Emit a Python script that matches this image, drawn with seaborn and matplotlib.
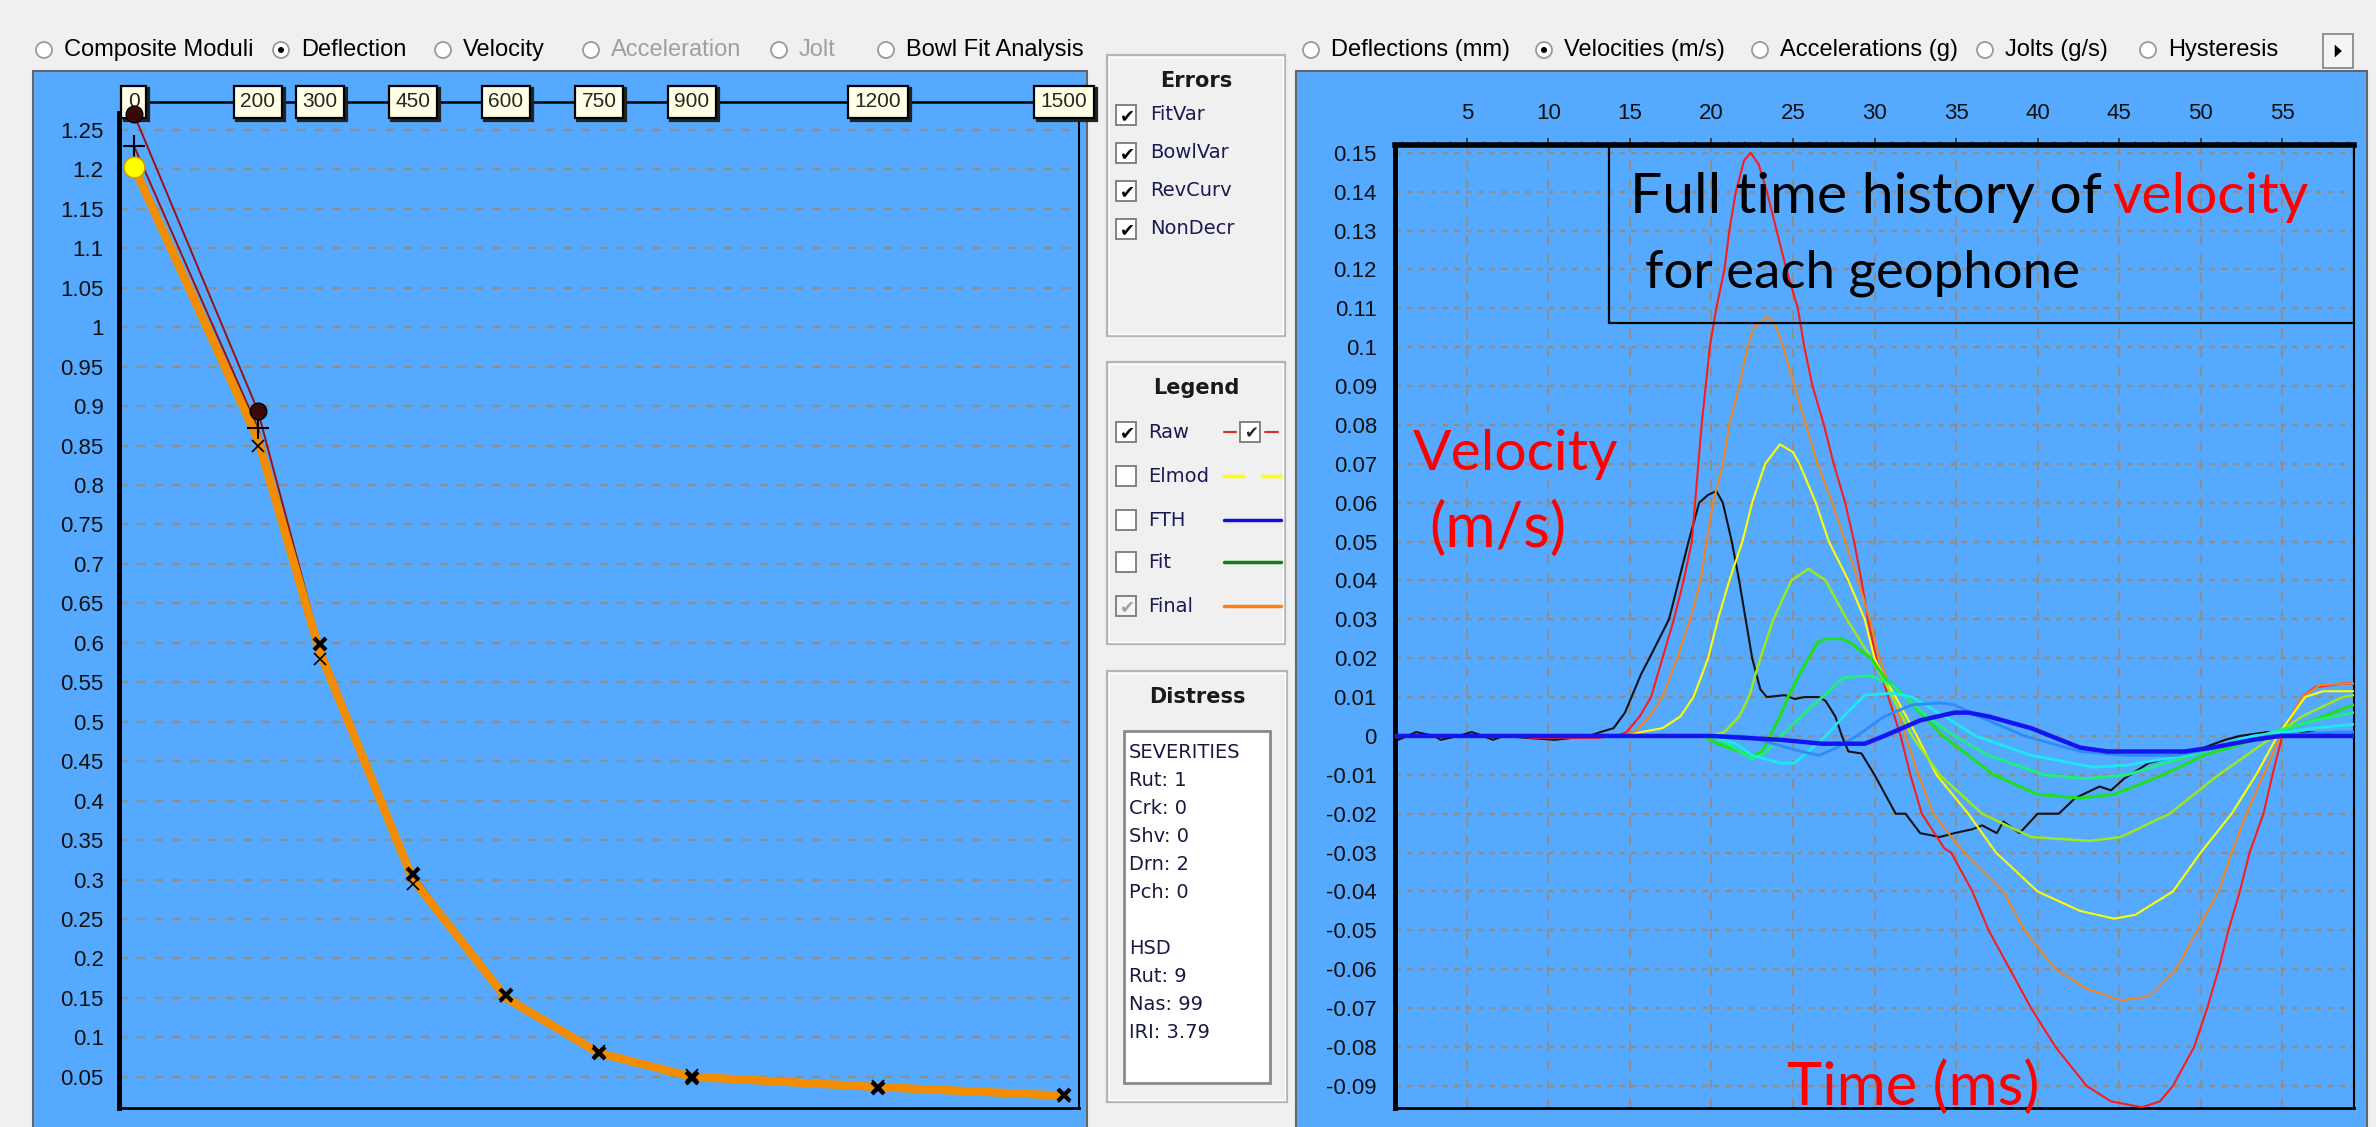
import numpy as np
import pandas as pd
import seaborn as sns
import matplotlib.pyplot as plt
import matplotlib.ticker as mtick
import matplotlib.transforms as mtrans
from matplotlib.patches import Rectangle, Circle, Polygon

# ---------------- data: deflection bowl (left chart) ----------------
offsets = [0, 200, 300, 450, 600, 750, 900, 1200, 1500]
offset_labels = ['0', '200', '300', '450', '600', '750', '900', '1200', '1500']
raw_a = [1.270, 0.894, 0.598, 0.307, 0.153, 0.080, 0.048, 0.036, 0.027]
raw_b = [1.230, 0.872, 0.590, 0.300, 0.150, 0.078, 0.050, 0.035, 0.026]
raw_x = [1.205, 0.850, 0.580, 0.294, 0.152, 0.083, 0.052, 0.038, 0.025]
final = [1.203, 0.858, 0.588, 0.300, 0.150, 0.080, 0.050, 0.037, 0.026]

# ---------------- data: velocity time histories (right chart) ----------------
black_t = [0.6, 0.8, 1.9, 3.0, 3.4, 4.5, 5.3, 6.0, 6.6, 7.3, 8.7, 10.4, 12.5, 13.2, 14.0,
           14.7, 15.1, 15.7, 16.2, 16.8, 17.4, 18.0, 18.6, 19.25, 19.8, 20.3, 20.7, 21.25,
           21.7, 22.1, 22.5, 23.0, 23.4, 24.5, 25.1, 25.7, 26.6, 27.0, 27.6, 28.0, 28.4,
           29.2, 30.0, 31.3, 31.9, 32.8, 34.0, 34.9, 36.0, 36.6, 37.5, 37.9, 38.9, 40.0,
           41.3, 42.3, 43.8, 44.5, 45.3, 46.8, 49.4, 50.2, 51.5, 52.4, 54.1, 55.3, 56.6,
           58.7, 59.4]
black_v = [0.0, -0.001, 0.001, 0.0, -0.001, 0.0, 0.001, 0.0, -0.001, 0.0, -0.0005, -0.001,
           0.0, 0.001, 0.002, 0.006, 0.010, 0.016, 0.020, 0.025, 0.030, 0.040, 0.050, 0.060,
           0.062, 0.063, 0.060, 0.050, 0.040, 0.030, 0.020, 0.012, 0.010, 0.0105, 0.0095,
           0.010, 0.010, 0.009, 0.005, 0.0, -0.004, -0.0045, -0.010, -0.020, -0.020, -0.025,
           -0.026, -0.025, -0.024, -0.023, -0.025, -0.022, -0.025, -0.020, -0.020, -0.016,
           -0.013, -0.014, -0.011, -0.007, -0.004, -0.003, -0.001, 0.0, 0.001, 0.0, 0.001,
           0.0, 0.0]

red_t = [0.6, 8.0, 9.0, 13.0, 14.2, 14.8, 15.6, 16.3, 17.0, 17.7, 18.3, 18.8, 19.0, 19.4,
         19.9, 20.3, 20.8, 21.1, 21.5, 22.0, 22.4, 22.9, 23.4, 24.0, 24.6, 25.3, 25.7, 26.2,
         26.9, 27.5, 28.2, 28.75, 29.2, 29.6, 30.1, 30.85, 31.6, 32.2, 32.9, 34.3, 34.7,
         36.0, 37.0, 38.3, 39.6, 41.1, 43.0, 44.5, 46.4, 47.5, 48.3, 49.6, 50.4, 51.1, 51.7,
         52.4, 53.0, 53.85, 54.4, 55.0, 55.55, 56.2, 57.0, 58.7, 59.4]
red_v = [0.0, 0.0, -0.0005, -0.0005, 0.0, 0.001, 0.005, 0.010, 0.020, 0.030, 0.040, 0.050,
         0.060, 0.080, 0.100, 0.110, 0.120, 0.130, 0.140, 0.148, 0.150, 0.147, 0.140, 0.130,
         0.120, 0.110, 0.100, 0.090, 0.080, 0.070, 0.060, 0.050, 0.040, 0.030, 0.020, 0.010,
         0.0, -0.010, -0.020, -0.029, -0.030, -0.040, -0.050, -0.060, -0.070, -0.080, -0.090,
         -0.094, -0.0955, -0.094, -0.090, -0.080, -0.070, -0.060, -0.050, -0.040, -0.030,
         -0.020, -0.010, 0.0, 0.005, 0.010, 0.0125, 0.0135, 0.0135]

orange_t = [0.6, 14.5, 15.3, 16.2, 17.0, 17.9, 18.7, 19.35, 19.7, 20.1, 20.7, 21.1, 21.7,
            22.2, 22.6, 23.5, 24.0, 24.4, 25.1, 25.8, 26.5, 27.4, 28.2, 29.0, 29.7, 30.3,
            31.15, 31.9, 32.7, 33.6, 34.9, 35.5, 37.9, 39.2, 41.1, 43.0, 45.1, 46.8, 48.5,
            49.8, 51.1, 51.9, 52.8, 53.85, 54.9, 55.55, 56.2, 57.3, 58.7, 59.4]
orange_v = [0.0, 0.0, 0.001, 0.005, 0.010, 0.020, 0.030, 0.040, 0.050, 0.060, 0.070, 0.080,
            0.090, 0.100, 0.105, 0.108, 0.105, 0.100, 0.090, 0.080, 0.070, 0.060, 0.050,
            0.040, 0.030, 0.020, 0.010, 0.0, -0.010, -0.020, -0.027, -0.030, -0.040, -0.050,
            -0.060, -0.065, -0.068, -0.067, -0.060, -0.050, -0.040, -0.030, -0.020, -0.010,
            0.0, 0.005, 0.010, 0.013, 0.0135, 0.0135]

yellow_t = [0.6, 14.8, 15.7, 17.0, 18.1, 18.9, 19.8, 20.4, 21.1, 21.9, 22.5, 23.3, 24.2,
            25.0, 25.4, 26.4, 27.2, 28.4, 29.4, 30.0, 30.6, 31.3, 32.6, 33.8, 35.75, 37.45,
            40.0, 42.6, 44.7, 46.0, 48.3, 50.0, 51.9, 53.4, 54.7, 55.55, 56.4, 57.5, 59.4]
yellow_v = [0.0, 0.0, 0.001, 0.002, 0.005, 0.010, 0.020, 0.030, 0.040, 0.050, 0.060, 0.070,
            0.075, 0.073, 0.070, 0.060, 0.050, 0.040, 0.030, 0.020, 0.015, 0.010, 0.0, -0.010,
            -0.020, -0.030, -0.040, -0.045, -0.047, -0.046, -0.040, -0.030, -0.020, -0.010,
            0.0, 0.005, 0.010, 0.0115, 0.0115]

lime_t = [0.6, 20.0, 20.8, 21.7, 22.3, 23.0, 23.8, 24.9, 25.95, 27.0, 28.3, 29.8, 30.5,
          31.1, 32.3, 34.0, 36.6, 39.6, 43.2, 45.1, 48.1, 51.1, 52.8, 54.5, 56.2, 58.7, 59.4]
lime_v = [0.0, 0.0, 0.001, 0.005, 0.010, 0.020, 0.030, 0.040, 0.043, 0.040, 0.030, 0.020,
          0.015, 0.010, 0.0, -0.010, -0.020, -0.026, -0.027, -0.026, -0.020, -0.010, -0.005,
          0.0, 0.005, 0.010, 0.0105]

green_t = [0.6, 19.5, 20.4, 21.7, 22.6, 23.1, 23.6, 24.2, 24.7, 25.3, 25.95, 26.5, 27.0,
           28.0, 28.5, 29.8, 30.6, 31.9, 34.2, 37.3, 40.0, 42.6, 44.7, 47.7, 50.2, 54.1,
           57.5, 59.4]
green_v = [0.0, 0.0, -0.002, -0.004, -0.005, -0.004, 0.0, 0.005, 0.010, 0.015, 0.020, 0.024,
           0.025, 0.025, 0.024, 0.020, 0.015, 0.010, 0.0, -0.010, -0.015, -0.016, -0.015,
           -0.010, -0.005, 0.0, 0.005, 0.008]

spring_t = [0.6, 20.0, 21.0, 22.5, 23.4, 24.25, 25.5, 26.8, 28.1, 29.8, 31.1, 31.9, 33.2,
            34.9, 37.0, 40.4, 43.0, 45.5, 49.4, 53.6, 57.0, 59.4]
spring_v = [0.0, 0.0, -0.002, -0.006, -0.004, 0.0, 0.005, 0.010, 0.015, 0.0155, 0.013, 0.010,
            0.005, 0.0, -0.005, -0.010, -0.011, -0.010, -0.005, 0.0, 0.004, 0.006]

cyan_t = [0.6, 20.0, 21.5, 22.5, 24.25, 25.1, 26.2, 27.0, 28.1, 29.4, 31.1, 32.3, 34.3, 36.2,
          39.6, 43.4, 45.5, 49.0, 53.2, 57.0, 59.4]
cyan_v = [0.0, 0.0, -0.002, -0.005, -0.007, -0.007, -0.003, 0.0, 0.005, 0.0105, 0.011, 0.010,
          0.005, 0.0, -0.005, -0.008, -0.0075, -0.005, 0.0, 0.002, 0.003]

sky_t = [0.6, 22.0, 23.8, 25.5, 26.6, 27.7, 28.9, 30.6, 32.3, 34.0, 34.9, 36.4, 39.2, 42.6,
         45.5, 48.5, 51.1, 54.1, 58.3, 59.4]
sky_v = [0.0, 0.0, -0.002, -0.004, -0.005, -0.003, 0.0, 0.005, 0.008, 0.0085, 0.008, 0.005,
         0.0, -0.004, -0.005, -0.005, -0.003, 0.0, 0.001, 0.001]

blue_t = [0.6, 20.0, 24.25, 26.8, 29.4, 30.6, 32.8, 34.9, 35.75, 37.0, 39.6, 40.8, 42.6, 44.3,
          49.0, 50.7, 53.2, 54.9, 59.4]
blue_v = [0.0, 0.0, -0.001, -0.002, -0.002, 0.0, 0.004, 0.006, 0.006, 0.005, 0.002, 0.0,
          -0.003, -0.004, -0.004, -0.003, -0.001, 0.0, 0.0]

distress_lines = ['SEVERITIES', 'Rut: 1', 'Crk: 0', 'Shv: 0', 'Drn: 2', 'Pch: 0', '',
                  'HSD', 'Rut: 9', 'Nas: 99', 'IRI: 3.79']

# ---------------- figure setup ----------------
sns.set_theme(style='white')
plt.rcParams['font.family'] = ['Liberation Sans', 'DejaVu Sans']

W, H, DPI = 2376, 1127, 100
BLUE = '#55aaff'
GRID = '#8e8e8e'
fig = plt.figure(figsize=(W / DPI, H / DPI), dpi=DPI)
fig.patch.set_facecolor('#f0f0f0')

# full-figure layer in pixel coordinates for the window chrome
ui = fig.add_axes([0, 0, 1, 1])
ui.set_xlim(0, W)
ui.set_ylim(H, 0)
ui.axis('off')


def fx(x):
    return x / W


def fy(y):
    return 1 - y / H


def tick_fmt(v, p):
    v = round(v, 2)
    return f'{v + 0.0:g}' if abs(v) > 1e-9 else '0'


def radio(x, y, label, selected=False, enabled=True):
    ui.add_patch(Circle((x, y), 8, facecolor='white', edgecolor='#9a9a9a', lw=1.3))
    if selected:
        ui.add_patch(Circle((x, y), 3, facecolor='black', edgecolor='none'))
    ui.text(x + 20, y, label, ha='left', va='center', fontsize=17,
            color='black' if enabled else '#a0a0a0')


def checkbox(x, y, checked, grey=False):
    ui.add_patch(Rectangle((x - 10, y - 10), 20, 20, facecolor='#f4f4f4' if grey else 'white',
                           edgecolor='#7a7a7a', lw=1.3))
    if checked:
        ui.text(x + 1, y + 1, '\u2714', ha='center', va='center', fontsize=13,
                family='DejaVu Sans', color='#a0a0a0' if grey else 'black')


def group(x0, y0, x1, y1, title):
    ui.add_patch(Rectangle((x0, y0), x1 - x0, y1 - y0, facecolor='none',
                           edgecolor='#b4b4b4', lw=1.6))
    ui.add_patch(Rectangle((x0 + 2, y0 + 2), x1 - x0 - 4, y1 - y0 - 4, facecolor='none',
                           edgecolor='white', lw=1.0))
    ui.text((x0 + x1) / 2, y0 + 26, title, ha='center', va='center', fontsize=15,
            weight='bold', family='DejaVu Sans', color='#1a1a1a')


# panels
ui.add_patch(Rectangle((33, 71), 1054, 1070, facecolor=BLUE, edgecolor='#666666', lw=1.5))
ui.add_patch(Rectangle((1296, 71), 1071, 1070, facecolor=BLUE, edgecolor='#666666', lw=1.5))

# radio bars
for x, lab, sel, en in [(44, 'Composite Moduli', False, True), (281, 'Deflection', True, True),
                        (443, 'Velocity', False, True), (591, 'Acceleration', False, False),
                        (779, 'Jolt', False, False), (886, 'Bowl Fit Analysis', False, True)]:
    radio(x, 50, lab, sel, en)
for x, lab, sel in [(1311, 'Deflections (mm)', False), (1544, 'Velocities (m/s)', True),
                    (1760, 'Accelerations (g)', False), (1985, 'Jolts (g/s)', False),
                    (2148, 'Hysteresis', False)]:
    radio(x, 50, lab, sel)
ui.add_patch(Rectangle((2323, 34), 30, 34, facecolor='#f4f4f4', edgecolor='#8a8a8a', lw=1.3))
ui.add_patch(Polygon([(2334, 43), (2334, 59), (2343, 51)], closed=True, facecolor='black'))

# middle panel: Errors
group(1107, 55, 1285, 336, 'Errors')
for y, lab in zip([115, 153, 191, 229], ['FitVar', 'BowlVar', 'RevCurv', 'NonDecr']):
    checkbox(1126, y, True)
    ui.text(1150, y, lab, ha='left', va='center', fontsize=14, family='DejaVu Sans',
            color='#1a1a55')

# middle panel: Legend
group(1107, 362, 1285, 644, 'Legend')
leg_rows = [('Raw', True, False), ('Elmod', False, False), ('FTH', False, False),
            ('Fit', False, False), ('Final', True, True)]
for y, (lab, chk, grey) in zip([432, 476, 520, 562, 606], leg_rows):
    checkbox(1126, y, chk, grey)
    ui.text(1148, y, lab, ha='left', va='center', fontsize=14, family='DejaVu Sans',
            color='#1a1a55')
ui.plot([1224, 1236], [432, 432], color='#d03030', lw=1.5)
ui.plot([1265, 1278], [432, 432], color='#d03030', lw=1.5)
ui.add_patch(Rectangle((1240, 422), 20, 20, facecolor='white', edgecolor='#7a7a7a', lw=1.3))
ui.text(1251, 433, '\u2714', ha='center', va='center', fontsize=12, family='DejaVu Sans')
ui.plot([1224, 1243], [476, 476], color='#ffff00', lw=2.5)
ui.plot([1262, 1281], [476, 476], color='#ffff00', lw=2.5)
ui.plot([1224, 1281], [520, 520], color='#1010e0', lw=2.5)
ui.plot([1224, 1281], [562, 562], color='#108010', lw=2.5)
ui.plot([1224, 1281], [606, 606], color='#ff8010', lw=2.5)

# middle panel: Distress
group(1107, 671, 1287, 1102, 'Distress')
ui.add_patch(Rectangle((1124, 731), 146, 352, facecolor='white', edgecolor='#8a8a8a', lw=2))
for i, line in enumerate(distress_lines):
    ui.text(1129, 752 + 28 * i, line, ha='left', va='center', fontsize=14,
            family='DejaVu Sans', color='#1a1a40')

# ---------------- left chart: deflection bowl ----------------
ax1 = fig.add_axes([fx(119), fy(1108), (1079 - 119) / W, (1108 - 113) / H])
ax1.set_facecolor(BLUE)
sns.lineplot(x=offsets, y=raw_a, ax=ax1, color='#9a1010', lw=1.4, zorder=3)
sns.lineplot(x=offsets, y=raw_b, ax=ax1, color='#9a1010', lw=1.4, zorder=3)
sns.lineplot(x=offsets, y=final, ax=ax1, color='#f28c00', lw=6, zorder=4)
ax1.plot(offsets[2:], raw_a[2:], ls='none', marker='x', ms=9, mew=3, color='black', zorder=5)
ax1.plot(offsets[1:], raw_x[1:], ls='none', marker='x', ms=8, mew=1.2, color='black', zorder=5)
ax1.plot(offsets[:2], raw_b[:2], ls='none', marker='+', ms=16, mew=1.5, color='black', zorder=5)
ax1.plot(offsets[:2], raw_a[:2], ls='none', marker='o', ms=12, color='#3a0808',
         mec='black', zorder=10, clip_on=False)
ax1.plot(offsets[:1], final[:1], ls='none', marker='o', ms=15, color='#ffff00',
         mec='#c8a000', zorder=6, clip_on=False)

ax1.set_xlim(-24, 1524)
ax1.set_ylim(0.0104, 1.2715)
ax1.set_yticks(np.arange(0.05, 1.2501, 0.05))
ax1.yaxis.set_major_formatter(mtick.FuncFormatter(tick_fmt))
ax1.yaxis.set_minor_locator(mtick.MultipleLocator(0.01))
ax1.set_xticks(offsets)
ax1.tick_params(axis='x', bottom=False, top=True, labelbottom=False, labeltop=False,
                direction='in', length=4, width=1.5, color='black')
ax1.tick_params(axis='y', which='major', length=5, width=1.5, pad=6, labelsize=16,
                color='#333333', labelcolor='#101010')
ax1.tick_params(axis='y', which='minor', length=3, width=1.5, color='#555555')
ax1.yaxis.grid(True, color=GRID, ls=(0, (4, 4)), lw=1.6)
ax1.xaxis.grid(False)
ax1.set_axisbelow(True)
ax1.spines['top'].set_visible(False)
ax1.spines['left'].set_linewidth(3.5)
ax1.spines['bottom'].set_linewidth(2)
ax1.spines['right'].set_linewidth(1.5)
for s in ['left', 'bottom', 'right']:
    ax1.spines[s].set_color('black')

# sensor offset labels on the top rail
tr = mtrans.blended_transform_factory(ax1.transData, ax1.transAxes)
tr_shadow = mtrans.offset_copy(tr, fig=fig, x=2.5, y=-2.5, units='dots')
rail_y = 1 + (113 - 102) / (1108 - 113)
ax1.plot([offsets[0], offsets[-1]], [rail_y, rail_y], transform=tr, color='black', lw=1.8,
         clip_on=False, zorder=7)
for x, lab in zip(offsets, offset_labels):
    ax1.text(x, rail_y, lab, transform=tr_shadow, ha='center', va='center', fontsize=15,
             zorder=8, color='#222222',
             bbox=dict(boxstyle='square,pad=0.32', facecolor='#222222', edgecolor='#222222',
                       lw=1.6))
    ax1.text(x, rail_y, lab, transform=tr, ha='center', va='center', fontsize=15, zorder=9,
             bbox=dict(boxstyle='square,pad=0.32', facecolor='#ffffe6', edgecolor='black',
                       lw=1.6))

# ---------------- right chart: velocity histories ----------------
ax2 = fig.add_axes([fx(1395), fy(1108), (2354 - 1395) / W, (1108 - 145) / H])
ax2.set_facecolor(BLUE)
series = [(black_t, black_v, '#111111', 1.5), (red_t, red_v, '#ff1a1a', 1.5),
          (orange_t, orange_v, '#f0841e', 1.5), (yellow_t, yellow_v, '#ffff00', 1.5),
          (lime_t, lime_v, '#9be81e', 1.8), (green_t, green_v, '#1ee01e', 2.2),
          (spring_t, spring_v, '#1ef07a', 2.0), (cyan_t, cyan_v, '#1ee8f0', 2.0),
          (sky_t, sky_v, '#2f8cf5', 2.0), (blue_t, blue_v, '#1414f0', 3.2)]
for t, v, c, lw in series:
    sns.lineplot(x=t, y=v, ax=ax2, color=c, lw=lw, zorder=3)

ax2.set_xlim(0.6, 59.4)
ax2.set_ylim(-0.0957, 0.152)
ax2.xaxis.tick_top()
ax2.set_xticks(range(5, 60, 5))
ax2.xaxis.set_minor_locator(mtick.MultipleLocator(1))
ax2.set_yticks(np.arange(-0.09, 0.1501, 0.01))
ax2.yaxis.set_major_formatter(mtick.FuncFormatter(tick_fmt))
ax2.tick_params(axis='x', which='major', length=5, width=1.2, pad=10, labelsize=16,
                color='#333333', labelcolor='#101010')
ax2.tick_params(axis='x', which='minor', length=3, width=1.0, color='#444444')
ax2.tick_params(axis='y', which='major', length=5, width=1.5, pad=8, labelsize=16,
                color='#333333', labelcolor='#101010')
ax2.yaxis.grid(True, color=GRID, ls=(0, (2.5, 2.5)), lw=1.7)
ax2.xaxis.grid(True, color=GRID, ls=(0, (5, 4)), lw=1.5)
ax2.set_axisbelow(True)
ax2.spines['top'].set_linewidth(4)
ax2.spines['left'].set_linewidth(3.5)
ax2.spines['bottom'].set_linewidth(2)
ax2.spines['right'].set_linewidth(1.5)
for s in ax2.spines.values():
    s.set_color('black')

# annotations
ax2.add_patch(Rectangle((13.7, 0.1063), 59.4 - 13.7, 0.152 - 0.1063, facecolor='none',
                        edgecolor='black', lw=1.6, zorder=6))
ax2.text(15.0, 0.1386, 'Full time history of', fontsize=41, family='Lato', color='black',
         ha='left', va='center', zorder=7)
ax2.text(44.6, 0.1386, 'velocity', fontsize=41, family='Lato', color='red',
         ha='left', va='center', zorder=7)
ax2.text(15.9, 0.119, 'for each geophone', fontsize=38, family='Lato', color='black',
         ha='left', va='center', zorder=7)
ax2.text(8.0, 0.0725, 'Velocity', fontsize=41, family='Lato', color='red',
         ha='center', va='center', zorder=7)
ax2.text(6.9, 0.0531, '(m/s)', fontsize=44, family='Lato', color='red',
         ha='center', va='center', zorder=7)
ax2.text(32.4, -0.0905, 'Time (ms)', fontsize=43, family='Lato', color='red',
         ha='center', va='center', zorder=7)

ax1.set_xlabel('')
ax1.set_ylabel('')
ax2.set_xlabel('')
ax2.set_ylabel('')
fig.savefig('out.png', dpi=DPI, facecolor=fig.get_facecolor())
